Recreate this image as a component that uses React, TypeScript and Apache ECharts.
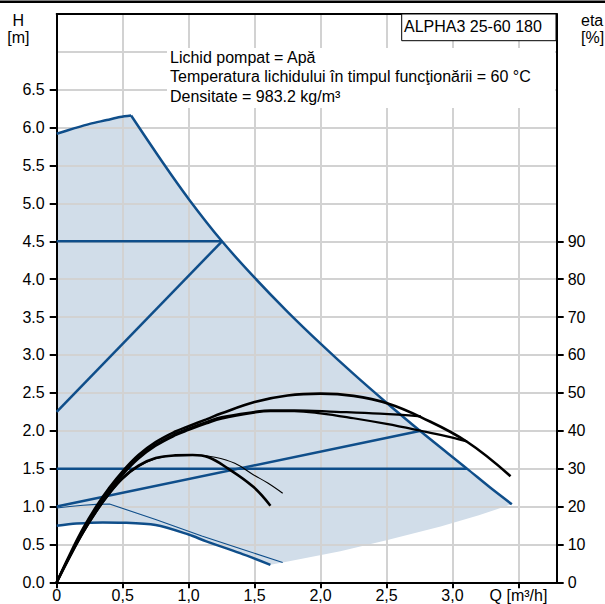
import React, { useEffect, useRef } from 'react';
import * as echarts from 'echarts';

const FONT = '"Liberation Sans", Arial, Helvetica, sans-serif';
const BLUE = '#0f4e8a';
const SHADE = '#d1dde9';
const GRID = '#d2d2d2';

// Tick labels
const xTicks = [0, 0.5, 1.0, 1.5, 2.0, 2.5, 3.0, 3.5];
const xTickLabels = ['0', '0,5', '1,0', '1,5', '2,0', '2,5', '3,0', 'Q [m³/h]'];
const hTicks = [0, 0.5, 1.0, 1.5, 2.0, 2.5, 3.0, 3.5, 4.0, 4.5, 5.0, 5.5, 6.0, 6.5];
const etaTicks = [0, 10, 20, 30, 40, 50, 60, 70, 80, 90];

// Max curve (top arc and descending part), H in m
const maxTopQ = [0, 0.13, 0.25, 0.38, 0.48, 0.564];
const maxTopH = [5.92, 5.99, 6.05, 6.1, 6.14, 6.16];
const maxDescQ = [0.564, 0.8, 1.0, 1.253, 1.5, 1.75, 2.0, 2.25, 2.5, 2.76, 3.11, 3.3, 3.45];
const maxDescH = [6.16, 5.55, 5.06, 4.5, 4.02, 3.57, 3.15, 2.75, 2.37, 1.99, 1.5, 1.23, 1.03];

// Lower edge of the operating area (no line)
const bottomQ = [1.713, 2.15, 2.5, 2.91, 3.2, 3.45];
const bottomH = [0.26, 0.41, 0.555, 0.735, 0.885, 1.03];

// Min curve (thick)
const minQ = [0, 0.15, 0.35, 0.5, 0.75, 1.0, 1.134, 1.39, 1.62];
const minH = [0.745, 0.775, 0.79, 0.787, 0.755, 0.63, 0.54, 0.385, 0.23];

// Thin lower curve
const thinQ = [0, 0.1, 0.2, 0.3, 0.4, 0.75, 1.1, 1.4, 1.713];
const thinH = [0.98, 1.0, 1.017, 1.028, 1.033, 0.83, 0.61, 0.44, 0.26];

// Control lines
const cpHighQ = [0, 1.253];
const cpHighH = [4.5, 4.5];
const ppHighQ = [0, 1.253];
const ppHighH = [2.25, 4.5];
const cpLowQ = [0, 3.11];
const cpLowH = [1.5, 1.5];
const ppLowQ = [0, 2.76];
const ppLowH = [1.0, 2.0];

// Efficiency curves (eta, %)
const etaAQ = [0, 0.1, 0.2, 0.3, 0.4, 0.5, 0.62, 0.75, 0.9, 1.0, 1.134, 1.25, 1.5, 1.75, 2.0, 2.25, 2.51, 2.76, 3.11, 3.44];
const etaAV = [0, 7.4, 14.2, 20.0, 25.0, 29.3, 33.6, 37.0, 39.8, 41.2, 43.0, 44.6, 47.6, 49.3, 49.8, 49.2, 47.2, 43.6, 37.1, 28.0];
const etaB1Q = [0, 0.1, 0.2, 0.3, 0.4, 0.5, 0.62, 0.75, 0.9, 1.0, 1.134, 1.25, 1.5, 1.62, 1.8, 2.12, 2.45, 2.76];
const etaB1V = [0, 7.1, 13.7, 19.5, 24.5, 28.8, 33.0, 36.4, 39.2, 40.6, 42.3, 43.6, 45.0, 45.4, 45.4, 45.0, 44.5, 43.8];
const etaB2Q = [0, 0.1, 0.2, 0.3, 0.4, 0.5, 0.62, 0.75, 0.9, 1.0, 1.134, 1.25, 1.5, 1.62, 1.8, 2.0, 2.25, 2.5, 2.76, 2.95, 3.11];
const etaB2V = [0, 7.0, 13.5, 19.2, 24.2, 28.4, 32.6, 36.0, 38.8, 40.2, 41.9, 43.2, 44.8, 45.2, 45.2, 44.6, 43.3, 41.8, 40.0, 38.6, 37.2];
const etaC1Q = [0, 0.1, 0.2, 0.3, 0.4, 0.5, 0.62, 0.75, 0.9, 1.03, 1.15, 1.3, 1.49, 1.62];
const etaC1V = [0, 6.8, 13.2, 18.8, 23.6, 27.6, 30.8, 32.8, 33.5, 33.6, 33.0, 30.0, 25.2, 20.2];
const etaC2Q = [0, 0.1, 0.2, 0.3, 0.4, 0.5, 0.62, 0.75, 0.9, 1.05, 1.2, 1.35, 1.49, 1.6, 1.713];
const etaC2V = [0, 6.6, 12.9, 18.4, 23.2, 27.2, 30.5, 32.6, 33.5, 33.6, 33.0, 31.4, 28.4, 26.2, 23.5];

const zip = (q: number[], v: number[]) => q.map((x, i) => [x, v[i]]);

export default function App() {
  const ref = useRef<HTMLDivElement>(null);
  useEffect(() => {
    const chart = echarts.init(ref.current!, null, { renderer: 'svg' });
    const shade = [
      ...zip(minQ, minH),
      ...zip(bottomQ, bottomH),
      ...zip(maxDescQ, maxDescH).reverse(),
      ...zip(maxTopQ, maxTopH).reverse(),
    ];
    const blueLine = (name: string, q: number[], h: number[], width: number, smooth: number | boolean) => ({
      name,
      type: 'line',
      data: zip(q, h),
      xAxisIndex: 0,
      yAxisIndex: 0,
      smooth,
      symbol: 'none',
      silent: true,
      z: 3,
      lineStyle: { color: BLUE, width },
    });
    const etaLine = (name: string, q: number[], v: number[], width: number) => ({
      name,
      type: 'line',
      data: zip(q, v),
      xAxisIndex: 0,
      yAxisIndex: 1,
      smooth: 0.4,
      symbol: 'none',
      silent: true,
      z: 4,
      lineStyle: { color: '#000', width },
    });
    const labelStyle = { color: '#000', fontSize: 16, fontFamily: FONT };
    const txt = (x: number, y: number, text: string, align: string, fontSize = 16, lineHeight = 16) => ({
      type: 'text', z: 11, x, y,
      style: { text, fontSize, lineHeight, fontFamily: FONT, fill: '#000', align, verticalAlign: 'middle' },
    });
    chart.setOption({
      animation: false,
      backgroundColor: '#fff',
      grid: { left: 56.7, right: 48.3, top: 14, bottom: 21.7, outerBoundsMode: 'none', containLabel: false },
      xAxis: [
        {
          type: 'value', min: 0, max: 3.79, interval: 0.5, z: 1,
          axisLine: { show: true, onZero: false, lineStyle: { color: '#000', width: 2 } },
          axisTick: { show: true, length: 6, lineStyle: { color: '#000', width: 2 }, customValues: xTicks },
          axisLabel: {
            ...labelStyle, margin: 5, customValues: xTicks,
            formatter: (v: number) => { const i = xTicks.findIndex((t) => Math.abs(t - v) < 1e-6); return i >= 0 ? xTickLabels[i] : ''; },
          },
          splitLine: { show: true, lineStyle: { color: GRID, width: 2 } },
        },
        {
          type: 'value', position: 'top', min: 0, max: 3.79, z: 1,
          axisLine: { show: true, onZero: false, lineStyle: { color: '#000', width: 2 } },
          axisTick: { show: false }, axisLabel: { show: false }, splitLine: { show: false },
        },
      ],
      yAxis: [
        {
          type: 'value', min: 0, max: 7.5, interval: 0.5, position: 'left', z: 1,
          axisLine: { show: true, onZero: false, lineStyle: { color: '#000', width: 2 } },
          axisTick: { show: false }, axisLabel: { show: false },
          splitLine: { show: true, lineStyle: { color: GRID, width: 2 } },
        },
        {
          type: 'value', min: 0, max: 150, interval: 10, position: 'right', z: 1,
          axisLine: { show: true, onZero: false, lineStyle: { color: '#000', width: 2 } },
          axisTick: { show: true, length: 7, lineStyle: { color: '#000', width: 2 }, customValues: etaTicks },
          axisLabel: { ...labelStyle, margin: 11, customValues: etaTicks, formatter: (v: number) => String(v) },
          splitLine: { show: false },
        },
        {
          type: 'value', min: 0, max: 7.5, interval: 0.5, position: 'left', z: 1,
          axisLine: { show: false },
          axisTick: { show: true, length: 7, lineStyle: { color: '#000', width: 2 }, customValues: hTicks },
          axisLabel: { ...labelStyle, margin: 12, customValues: hTicks, formatter: (v: number) => v.toFixed(1) },
          splitLine: { show: false },
        },
      ],
      series: [
        {
          type: 'custom',
          coordinateSystem: 'cartesian2d',
          xAxisIndex: 0,
          yAxisIndex: 0,
          silent: true,
          z: 0,
          encode: { x: 0, y: 1 },
          data: shade,
          renderItem: (params: any, api: any) => {
            if (params.dataIndex !== 0) return null;
            return { type: 'polygon', shape: { points: shade.map((p) => api.coord(p)) }, style: { fill: SHADE } };
          },
        },
        blueLine('maxTop', maxTopQ, maxTopH, 2.5, 0.3),
        blueLine('maxDesc', maxDescQ, maxDescH, 2.5, 0.3),
        blueLine('min', minQ, minH, 2.5, 0.3),
        blueLine('thin', thinQ, thinH, 1.1, false),
        blueLine('cpHigh', cpHighQ, cpHighH, 2.5, false),
        blueLine('ppHigh', ppHighQ, ppHighH, 2.5, false),
        blueLine('cpLow', cpLowQ, cpLowH, 2.5, false),
        blueLine('ppLow', ppLowQ, ppLowH, 2.5, false),
        etaLine('etaA', etaAQ, etaAV, 2.6),
        etaLine('etaB1', etaB1Q, etaB1V, 2.2),
        etaLine('etaB2', etaB2Q, etaB2V, 2.2),
        etaLine('etaC1', etaC1Q, etaC1V, 2.6),
        etaLine('etaC2', etaC2Q, etaC2V, 1.1),
      ],
      graphic: [
        { type: 'rect', z: 10, shape: { x: 0, y: 0.5, width: 605, height: 2.5 }, style: { fill: '#000' } },
        txt(18.3, 29, 'H\n[m]', 'center', 16, 16.6),
        txt(581, 29, 'eta\n[%]', 'left', 16, 16.6),
        { type: 'rect', z: 10, shape: { x: 401.7, y: 14, width: 154.3, height: 26.7 }, style: { fill: '#fff', stroke: '#000', lineWidth: 1 } },
        txt(404, 26, 'ALPHA3 25-60 180', 'left'),
        { type: 'rect', z: 10, shape: { x: 167, y: 48, width: 388, height: 60 }, style: { fill: '#fff' } },
        txt(170, 57, 'Lichid pompat = Apă', 'left'),
        txt(170, 76.5, 'Temperatura lichidului în timpul funcţionării = 60 °C', 'left'),
        txt(170, 96.5, 'Densitate = 983.2 kg/m³', 'left'),
      ],
    });
    return () => chart.dispose();
  }, []);
  return <div ref={ref} style={{ position: 'fixed', left: 0, top: 0, width: 605, height: 604 }} />;
}
